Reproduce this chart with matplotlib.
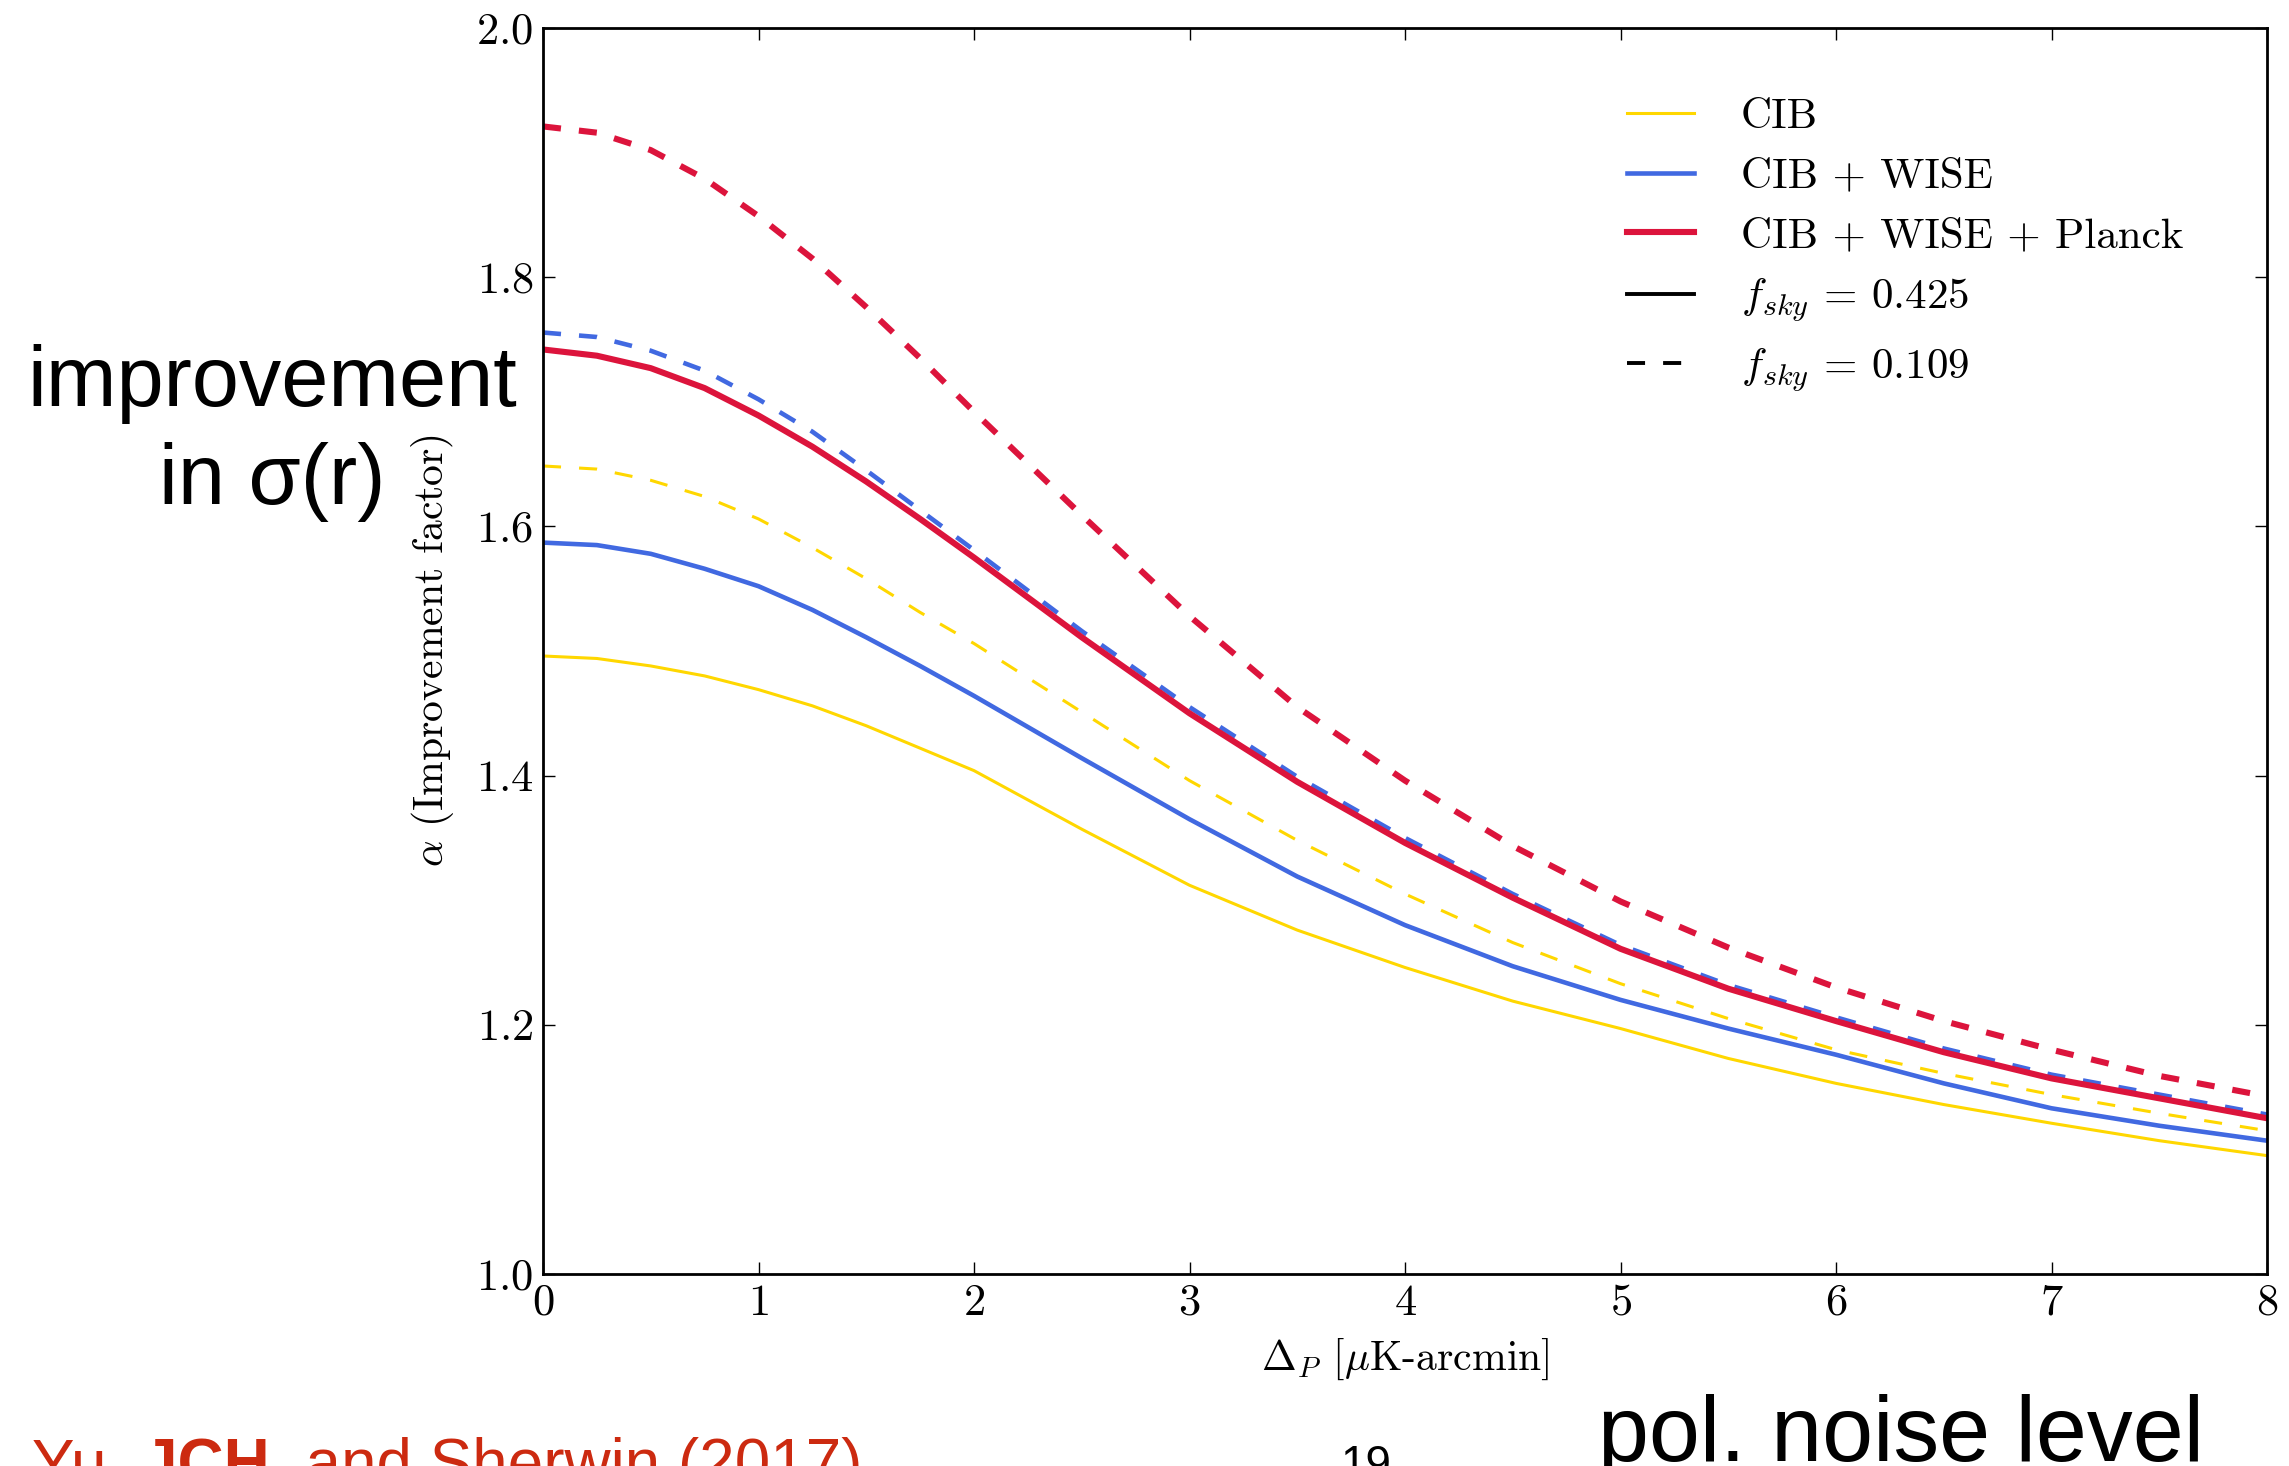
import matplotlib
matplotlib.use('Agg')
import matplotlib.pyplot as plt
from matplotlib.lines import Line2D

plt.rcParams['font.family'] = 'serif'
plt.rcParams['font.serif'] = ['cmr10']
plt.rcParams['mathtext.fontset'] = 'cm'
plt.rcParams['axes.unicode_minus'] = False
plt.rcParams['axes.formatter.use_mathtext'] = True
plt.rcParams['lines.scale_dashes'] = False

# noise level Delta_P [muK-arcmin]
delta_p = [0, 0.25, 0.5, 0.75, 1, 1.25, 1.5, 1.75, 2, 2.5, 3, 3.5, 4, 4.5, 5, 5.5, 6,
           6.5, 7, 7.5, 8]

# f_sky = 0.425 (solid)
cib_425 = [1.496, 1.494, 1.488, 1.480, 1.469, 1.456, 1.440, 1.422, 1.404, 1.357, 1.312,
           1.276, 1.246, 1.219, 1.197, 1.173, 1.153, 1.136, 1.121, 1.107, 1.095]
wise_425 = [1.587, 1.585, 1.578, 1.566, 1.552, 1.533, 1.511, 1.488, 1.464, 1.414, 1.365,
            1.319, 1.280, 1.247, 1.220, 1.197, 1.176, 1.153, 1.133, 1.119, 1.107]
planck_425 = [1.742, 1.737, 1.727, 1.711, 1.689, 1.664, 1.636, 1.606, 1.575, 1.511, 1.450,
              1.395, 1.346, 1.302, 1.261, 1.229, 1.203, 1.178, 1.157, 1.141, 1.125]

# f_sky = 0.109 (dashed)
cib_109 = [1.6485, 1.646, 1.637, 1.624, 1.606, 1.583, 1.558, 1.531, 1.506, 1.451, 1.396,
           1.348, 1.305, 1.266, 1.233, 1.205, 1.180, 1.161, 1.144, 1.129, 1.115]
wise_109 = [1.7556, 1.752, 1.741, 1.725, 1.702, 1.676, 1.645, 1.613, 1.581, 1.516, 1.455,
            1.399, 1.350, 1.305, 1.264, 1.232, 1.206, 1.181, 1.160, 1.144, 1.128]
planck_109 = [1.921, 1.916, 1.902, 1.879, 1.849, 1.815, 1.776, 1.735, 1.692, 1.609, 1.528,
              1.455, 1.396, 1.3435, 1.299, 1.262, 1.230, 1.203, 1.180, 1.159, 1.1426]

names = ['CIB', 'CIB + WISE', 'CIB + WISE + Planck']
cols = ['gold', 'royalblue', 'crimson']
lws = [2.2, 3.3, 4.4]
solid = [cib_425, wise_425, planck_425]
dashed = [cib_109, wise_109, planck_109]

W, H = 2289, 1466
fig = plt.figure(figsize=(W / 100., H / 100.), dpi=100)
ax = fig.add_axes([543. / W, 1 - 1274. / H, (2267. - 543) / W, (1274. - 28) / H])

for i in range(3):
    ax.plot(delta_p, solid[i], '-', color=cols[i], lw=lws[i])
    ax.plot(delta_p, dashed[i], color=cols[i], lw=lws[i], dashes=(13, 13))

ax.set_xlim(0, 8)
ax.set_ylim(1.0, 2.0)
ax.set_xticks(range(0, 9))
ax.set_yticks([1.0, 1.2, 1.4, 1.6, 1.8, 2.0])
ax.tick_params(direction='in', length=8.6, width=1, top=True, right=True,
               labelsize=32, pad=7)
for s in ax.spines.values():
    s.set_linewidth(2)

ax.set_xlabel(r'$\Delta_P$ [$\mu$K-arcmin]', fontsize=30, labelpad=9)
ax.set_ylabel(r'$\alpha$ (Improvement factor)', fontsize=30, labelpad=14)

handles = [Line2D([], [], color=cols[i], lw=lws[i]) for i in range(3)]
handles.append(Line2D([], [], color='k', lw=2.8))
handles.append(Line2D([], [], color='k', lw=2.8, dashes=(13, 13)))
labels = names + [r'$f_{sky}$ = 0.425', r'$f_{sky}$ = 0.109']
ax.legend(handles, labels, loc='upper left', bbox_to_anchor=(0.629, 0.944),
          frameon=False, fontsize=31, handlelength=1.55, handletextpad=1.08,
          labelspacing=0.5, borderpad=0, borderaxespad=0)

# slide annotations
fig.text(272. / W, 1 - 406. / H, 'improvement', family='Liberation Sans', fontsize=61,
         ha='center', va='baseline')
fig.text(272. / W, 1 - 504. / H, u'in \u03c3(r)', family='Liberation Sans', fontsize=61,
         ha='center', va='baseline')
fig.text(1598. / W, 1 - 1461. / H, 'pol. noise level', family='Liberation Sans',
         fontsize=66, ha='left', va='baseline')
fig.text(1366. / W, 1 - 1478. / H, '19', family='Liberation Sans', fontsize=33,
         ha='center', va='baseline')

red = '#cc2a10'
yb = 1 - 1484. / H
fig.canvas.draw()
r = fig.canvas.get_renderer()
x = 32.
for txt, wt in [('Yu, ', 'normal'), ('JCH', 'bold'), (', and Sherwin (2017)', 'normal')]:
    t = fig.text(x / W, yb, txt, family='Liberation Sans', fontsize=46, color=red,
                 weight=wt, ha='left', va='baseline')
    x = t.get_window_extent(renderer=r).x1

fig.savefig('out.png', dpi=100)
